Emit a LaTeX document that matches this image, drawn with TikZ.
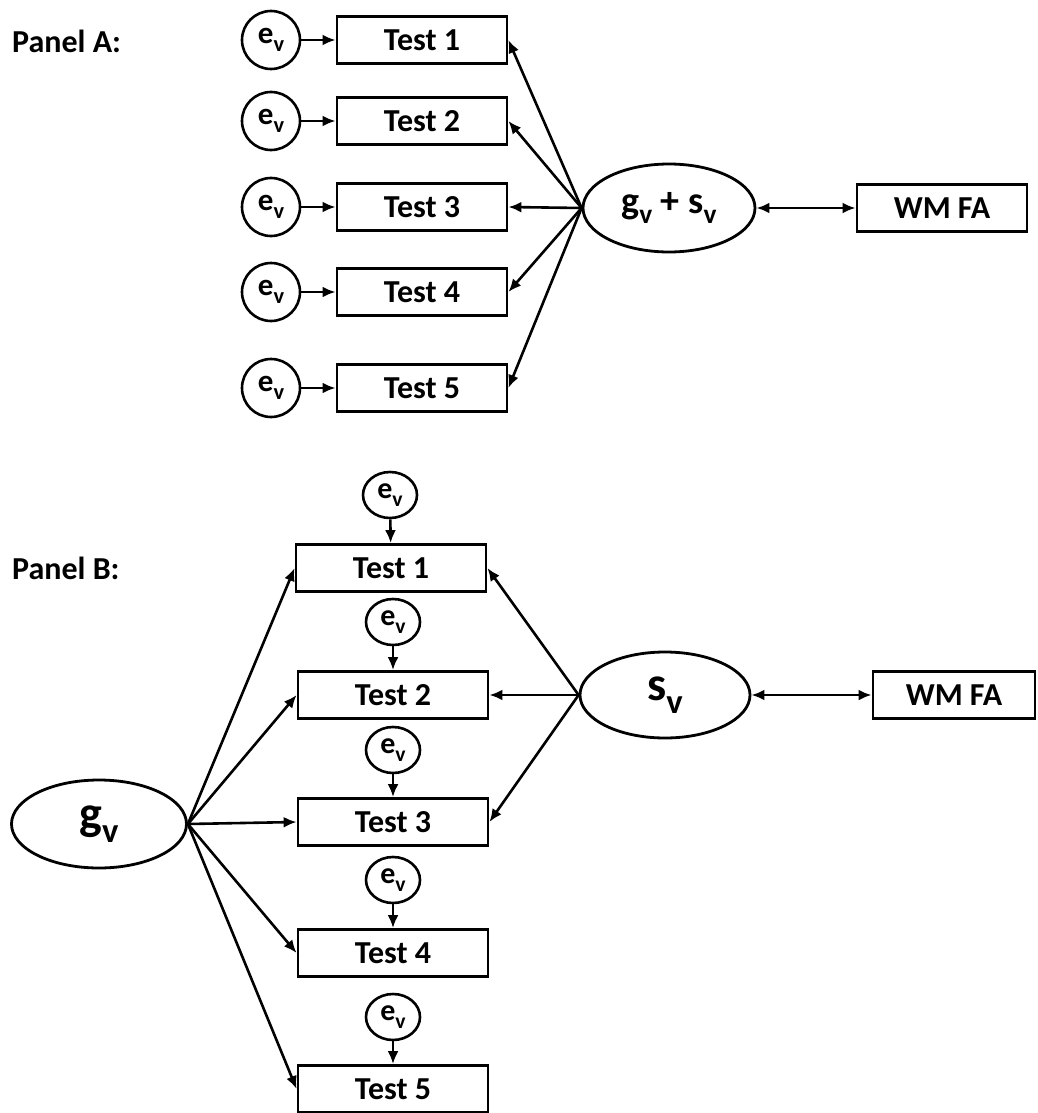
\documentclass[tikz,border=0pt]{standalone}
\usepackage{fontspec}
\usepackage{graphicx}
\setmainfont{Carlito}
\usetikzlibrary{arrows.meta, shapes.geometric, positioning}
\tikzset{
    testBox/.style={rectangle, draw, line width=2.8pt, minimum width=170pt, minimum height=47pt, inner sep=0pt, font=\fontsize{32}{38}\selectfont\bfseries},
    errNode/.style={circle, draw, line width=2.6pt, minimum size=58pt, inner sep=0pt, font=\fontsize{31}{34}\selectfont\bfseries},
    errSmall/.style={ellipse, draw, line width=2.6pt, minimum width=54pt, minimum height=46pt, inner sep=0pt, font=\fontsize{30}{34}\selectfont\bfseries},
    factorNode/.style={ellipse, draw, line width=2.8pt, inner sep=0pt},
    panelLabel/.style={anchor=west, inner sep=0pt, font=\fontsize{32}{38}\selectfont\bfseries},
    semEdge/.style={-{Latex[length=13pt, width=11pt]}, line width=2.6pt},
    semCov/.style={{Latex[length=13pt, width=11pt]}-{Latex[length=13pt, width=11pt]}, line width=2.6pt},
}
\newcommand{\subV}{\raisebox{-0.28em}{\scalebox{0.72}{v}}}
\newcommand{\errText}{e\subV}

\begin{document}
\begin{tikzpicture}[x=1pt, y=-1pt]
    \useasboundingbox (0,0) rectangle (1038,1113);

    % Panel A
    \node[panelLabel] (labA) at (12, 41) {Panel A:};

    \node[testBox] (tA1) at (422, 40) {Test 1};
    \node[testBox] (tA2) at (422, 121) {Test 2};
    \node[testBox] (tA3) at (422, 207) {Test 3};
    \node[testBox] (tA4) at (422, 292) {Test 4};
    \node[testBox] (tA5) at (422, 388) {Test 5};

    \node[errNode] (eA1) at (271, 40) {\errText};
    \node[errNode] (eA2) at (271, 121) {\errText};
    \node[errNode] (eA3) at (271, 207) {\errText};
    \node[errNode] (eA4) at (271, 292) {\errText};
    \node[errNode] (eA5) at (271, 388) {\errText};

    \node[factorNode, minimum width=172pt, minimum height=88pt, font=\fontsize{38}{40}\selectfont\bfseries] (gsA) at (669, 208) {g\subV{} + s\subV};
    \node[testBox] (wmA) at (942, 208) {WM FA};

    \draw[semEdge] (eA1) -- (tA1);
    \draw[semEdge] (eA2) -- (tA2);
    \draw[semEdge] (eA3) -- (tA3);
    \draw[semEdge] (eA4) -- (tA4);
    \draw[semEdge] (eA5) -- (tA5);

    \draw[semEdge] (gsA.west) -- (tA1.east);
    \draw[semEdge] (gsA.west) -- (tA2.east);
    \draw[semEdge] (gsA.west) -- (tA3.east);
    \draw[semEdge] (gsA.west) -- (tA4.east);
    \draw[semEdge] (gsA.west) -- (tA5.east);
    \draw[semCov] (gsA) -- (wmA);

    % Panel B
    \node[panelLabel] (labB) at (12, 568) {Panel B:};

    \node[testBox, minimum width=190pt] (tB1) at (391, 568) {Test 1};
    \node[testBox, minimum width=190pt] (tB2) at (393, 695) {Test 2};
    \node[testBox, minimum width=190pt] (tB3) at (393, 822) {Test 3};
    \node[testBox, minimum width=190pt] (tB4) at (393, 953) {Test 4};
    \node[testBox, minimum width=190pt] (tB5) at (393, 1089) {Test 5};

    \node[errSmall] (eB1) at (390, 495) {\errText};
    \node[errSmall] (eB2) at (393, 622) {\errText};
    \node[errSmall] (eB3) at (393, 750) {\errText};
    \node[errSmall] (eB4) at (393, 880) {\errText};
    \node[errSmall] (eB5) at (393, 1017) {\errText};

    \node[factorNode, minimum width=175pt, minimum height=88pt, font=\fontsize{48}{50}\selectfont\bfseries] (gB) at (99, 824) {g\subV};
    \node[factorNode, minimum width=170pt, minimum height=86pt, font=\fontsize{48}{50}\selectfont\bfseries] (sB) at (665, 695) {s\subV};
    \node[testBox, minimum width=162pt] (wmB) at (954, 695) {WM FA};

    \draw[semEdge] (eB1) -- (tB1);
    \draw[semEdge] (eB2) -- (tB2);
    \draw[semEdge] (eB3) -- (tB3);
    \draw[semEdge] (eB4) -- (tB4);
    \draw[semEdge] (eB5) -- (tB5);

    \draw[semEdge] (gB.east) -- (tB1.west);
    \draw[semEdge] (gB.east) -- (tB2.west);
    \draw[semEdge] (gB.east) -- (tB3.west);
    \draw[semEdge] (gB.east) -- (tB4.west);
    \draw[semEdge] (gB.east) -- (tB5.west);

    \draw[semEdge] (sB.west) -- (tB1.east);
    \draw[semEdge] (sB.west) -- (tB2.east);
    \draw[semEdge] (sB.west) -- (tB3.east);
    \draw[semCov] (sB) -- (wmB);

\end{tikzpicture}
\end{document}
